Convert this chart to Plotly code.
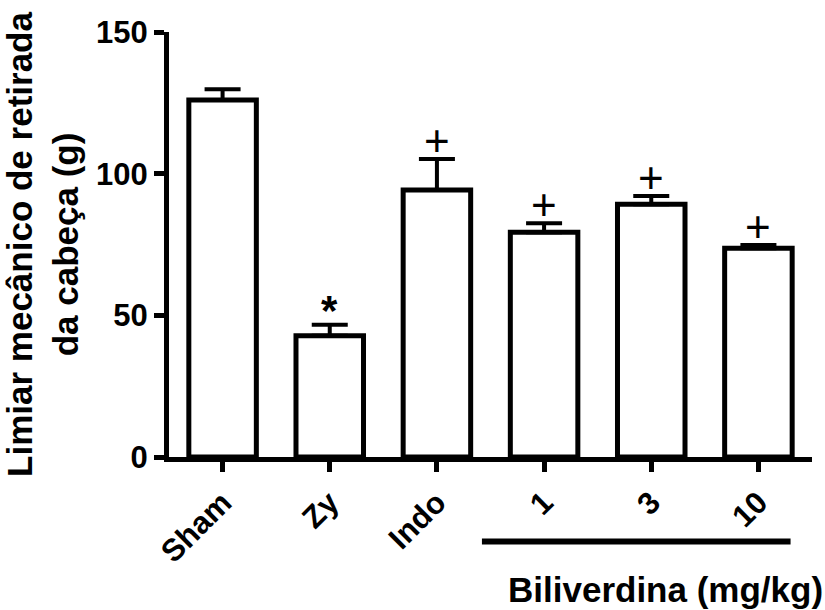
import plotly.graph_objects as go

categories = ["Sham", "Zy", "Indo", "1", "3", "10"]
means = [126, 42.8, 94.2, 79.3, 89.2, 73.7]
sem = [3.8, 3.9, 11.0, 3.2, 2.9, 1.1]
marks = ["", "*", "+", "+", "+", "+"]
y_ticks = [0, 50, 100, 150]
bracket_label = "Biliverdina (mg/kg)"
y_title = "Limiar mecânico de retirada<br>da cabeça (g)"

FONT = "Liberation Sans, Arial, sans-serif"
x_idx = list(range(len(categories)))

fig = go.Figure()
fig.add_trace(go.Bar(
    x=x_idx, y=means, width=0.63,
    marker=dict(color="white", line=dict(color="black", width=5)),
    error_y=dict(type="data", symmetric=False, array=sem,
                 arrayminus=[0] * len(sem), color="black",
                 thickness=4, width=18),
    showlegend=False,
))

for i, (m, s, t) in enumerate(zip(means, sem, marks)):
    if not t:
        continue
    if t == "+":
        fig.add_annotation(
            x=i, y=m + s, xref="x", yref="y", text=t,
            showarrow=False, yanchor="bottom", yshift=-8,
            font=dict(family=FONT, size=44, color="black"),
        )
    else:
        fig.add_annotation(
            x=i, y=m + s, xref="x", yref="y", text=f"<b>{t}</b>",
            showarrow=False, yanchor="bottom", yshift=-11,
            font=dict(family=FONT, size=42, color="black"),
        )

# bracket under Biliverdina doses
fig.add_shape(type="line", xref="x", yref="paper",
              x0=2.42, x1=5.3, y0=-0.199, y1=-0.199,
              line=dict(color="black", width=6))
fig.add_annotation(
    x=1.02, y=-0.312, xref="paper", yref="paper", text=f"<b>{bracket_label}</b>",
    showarrow=False, xanchor="right", yanchor="middle",
    font=dict(family=FONT, size=35, color="black"),
)

fig.update_layout(
    width=825, height=610,
    margin=dict(l=169, r=13, t=32, b=153),
    paper_bgcolor="white", plot_bgcolor="white",
    font=dict(family=FONT, color="black"),
    bargap=0.37,
)
fig.update_xaxes(
    range=[-0.5, len(categories) - 0.5],
    tickmode="array", tickvals=x_idx,
    ticktext=[f"<b>{c}</b>" for c in categories],
    tickangle=-45, tickfont=dict(size=31, family=FONT, color="black"),
    showline=True, linecolor="black", linewidth=5,
    ticks="outside", ticklen=10, tickwidth=5, tickcolor="black",
    showgrid=False, zeroline=False,
)
fig.update_yaxes(
    range=[0, 150], tickmode="array", tickvals=y_ticks,
    ticktext=[f"<b>{v}</b>" for v in y_ticks],
    tickfont=dict(size=31, family=FONT, color="black"),
    showline=True, linecolor="black", linewidth=5,
    ticks="outside", ticklen=10, tickwidth=5, tickcolor="black",
    showgrid=False, zeroline=False,
    title=dict(text=f"<b>{y_title}</b>", font=dict(size=35, family=FONT, color="black"),
               standoff=11),
)

fig.write_html("out.html")
